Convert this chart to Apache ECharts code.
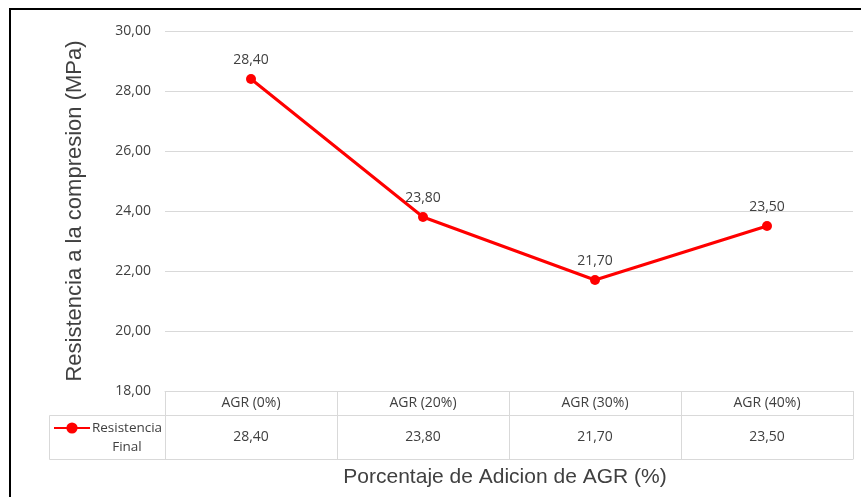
<!DOCTYPE html>
<html>
<head>
<meta charset="utf-8">
<script src="https://cdn.jsdelivr.net/npm/echarts@6/dist/echarts.min.js"></script>
<style>html,body{margin:0;padding:0;background:#fff;}#c{width:861px;height:497px;}</style>
</head>
<body>
<div id="c"></div>
<script>
const categories = ['AGR (0%)', 'AGR (20%)', 'AGR (30%)', 'AGR (40%)'];
const resistenciaFinal = [28.40, 23.80, 21.70, 23.50];
const seriesName = 'Resistencia Final';
const yTitle = 'Resistencia a la compresion (MPa)';
const xTitle = 'Porcentaje de Adicion de AGR (%)';

const fmt = v => Number(v).toFixed(2).replace('.', ',');
const lblFont = '"Open Sans", sans-serif';
const titleFont = '"Liberation Sans", Arial, sans-serif';
const grid = '#d9d9d9';

const chart = echarts.init(document.getElementById('c'), null, {renderer: 'canvas'});
chart.setOption({
  animation: false,
  backgroundColor: '#fff',
  grid: [
    {left: 165, right: 8, top: 31, height: 360},
    {left: 165, right: 8, top: 415, height: 44}
  ],
  xAxis: [
    {
      type: 'category', gridIndex: 0, data: categories, boundaryGap: true,
      axisLine: {show: true, lineStyle: {color: grid, width: 1}},
      axisTick: {show: true, length: 68, interval: 0, lineStyle: {color: grid}},
      axisLabel: {show: true, interval: 0, margin: 5, fontFamily: lblFont, fontSize: 14, color: '#404040'}
    },
    {
      type: 'category', gridIndex: 1, data: resistenciaFinal.map(fmt), boundaryGap: true,
      position: 'bottom',
      axisLine: {show: true, lineStyle: {color: grid, width: 1}},
      axisTick: {show: false},
      axisLabel: {show: true, interval: 0, margin: -29, fontFamily: lblFont, fontSize: 14, color: '#404040'},
      name: xTitle, nameLocation: 'middle', nameGap: 8,
      nameTextStyle: {fontFamily: titleFont, fontSize: 21, color: '#404040', padding: [0, 8, 0, 0]}
    },
    {
      type: 'category', gridIndex: 1, data: categories, boundaryGap: true,
      position: 'top',
      axisLine: {show: true, lineStyle: {color: grid, width: 1}},
      axisTick: {show: false}, axisLabel: {show: false}
    }
  ],
  yAxis: [
    {
      type: 'value', gridIndex: 0, min: 18, max: 30, interval: 2,
      axisLine: {show: false}, axisTick: {show: false},
      axisLabel: {formatter: fmt, margin: 14, fontFamily: lblFont, fontSize: 14, color: '#404040'},
      splitLine: {show: true, lineStyle: {color: grid, width: 1}},
      name: yTitle, nameLocation: 'middle', nameGap: 79,
      nameTextStyle: {fontFamily: titleFont, fontSize: 22, color: '#404040'}
    },
    {type: 'value', gridIndex: 1, show: false}
  ],
  legend: {
    show: true, orient: 'vertical', left: 53, top: 421, padding: 0,
    itemWidth: 36, itemHeight: 14, itemGap: 0,
    data: [seriesName],
    formatter: name => {
      const parts = name.split(' ');
      return '{a|' + parts[0] + '}\n{a|' + parts.slice(1).join(' ') + '}';
    },
    textStyle: {
      fontFamily: lblFont, fontSize: 13.5, color: '#404040', padding: [19, 0, 0, -3],
      rich: {a: {width: 70, align: 'center', lineHeight: 19, fontFamily: lblFont, fontSize: 13.5, color: '#404040'}}
    }
  },
  series: [{
    name: seriesName, type: 'line', xAxisIndex: 0, yAxisIndex: 0,
    data: resistenciaFinal,
    color: '#ff0000',
    lineStyle: {color: '#ff0000', width: 3},
    itemStyle: {color: '#ff0000'},
    symbol: 'circle', symbolSize: 10,
    label: {show: true, position: 'top', distance: 7, formatter: p => fmt(p.value),
      fontFamily: lblFont, fontSize: 14, color: '#404040'}
  }],
  graphic: [
    {type: 'polyline', shape: {points: [[165, 415.5], [49.5, 415.5], [49.5, 459.5], [165, 459.5]]},
      style: {stroke: grid, lineWidth: 1, fill: null}, silent: true},
    {type: 'rect', shape: {x: 10, y: 9, width: 1000, height: 1000},
      style: {stroke: '#000', lineWidth: 2, fill: null}, silent: true, z: 100}
  ]
});
</script>
</body>
</html>
